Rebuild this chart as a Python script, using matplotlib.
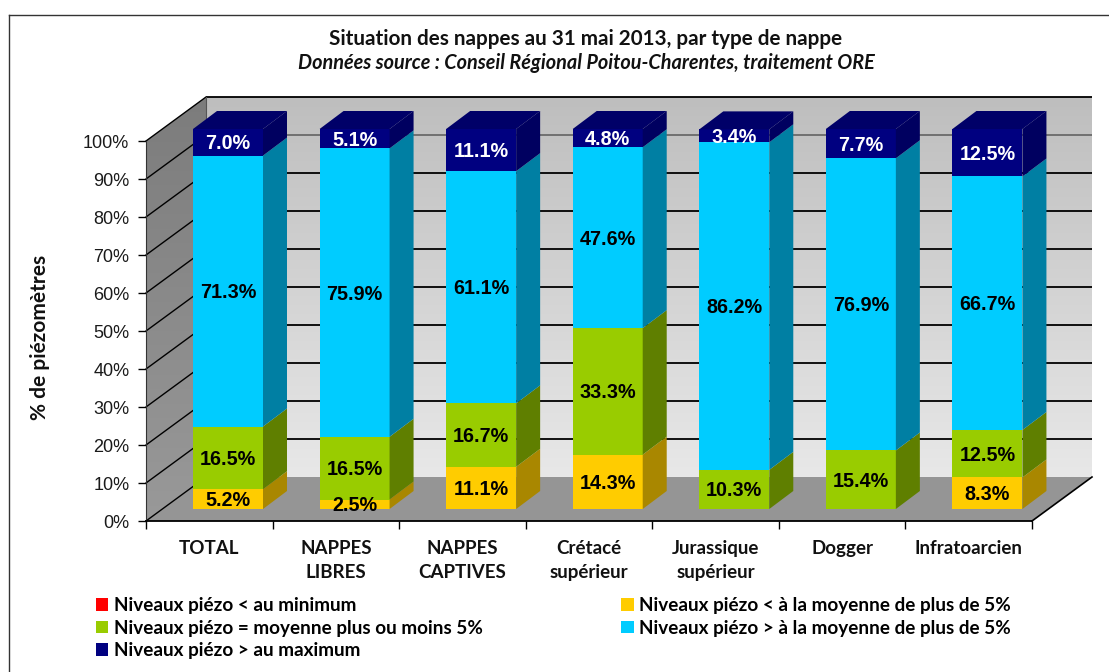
import numpy as np
import matplotlib
matplotlib.use("Agg")
import matplotlib.pyplot as plt
from matplotlib.colors import LinearSegmentedColormap
from matplotlib.lines import Line2D
from matplotlib.patches import Patch, Polygon

categories = ["TOTAL", "NAPPES\nLIBRES", "NAPPES\nCAPTIVES", "Crétacé\nsupérieur",
              "Jurassique\nsupérieur", "Dogger", "Infratoarcien"]
sous_minimum = [0, 0, 0, 0, 0, 0, 0]
sous_moyenne = [5.2, 2.5, 11.1, 14.3, 0, 0, 8.3]
moyenne = [16.5, 16.5, 16.7, 33.3, 10.3, 15.4, 12.5]
sur_moyenne = [71.3, 75.9, 61.1, 47.6, 86.2, 76.9, 66.7]
sur_maximum = [7.0, 5.1, 11.1, 4.8, 3.4, 7.7, 12.5]
y_ticks = [0, 10, 20, 30, 40, 50, 60, 70, 80, 90, 100]

series = [
    ("Niveaux piézo < au minimum", sous_minimum, "#FF0000", "#A00000", "black"),
    ("Niveaux piézo < à la moyenne de plus de 5%", sous_moyenne, "#FFCC00", "#A98700", "black"),
    ("Niveaux piézo = moyenne plus ou moins 5%", moyenne, "#99CC00", "#5F7F00", "black"),
    ("Niveaux piézo > à la moyenne de plus de 5%", sur_moyenne, "#00CCFF", "#007FA3", "black"),
    ("Niveaux piézo > au maximum", sur_maximum, "#000080", "#000060", "white"),
]

W, H = 1109, 672
LEFT, RIGHT, TOP, BOTTOM = 146, 1032, 141, 521
px_x = (RIGHT - LEFT) / len(categories)
px_y = (BOTTOM - TOP) / 100

# depth of the fake 3D box and of the bars, in data units
wall_dx, wall_dy = 60 / px_x, 44 / px_y
bar_dx, bar_dy = 24 / px_x, 18 / px_y
lift_x, lift_y = 47 / px_x, 12 / px_y
bar_w = 70 / px_x

fig = plt.figure(figsize=(W / 100, H / 100), dpi=100)
ax = fig.add_axes([LEFT / W, 1 - BOTTOM / H, (RIGHT - LEFT) / W, (BOTTOM - TOP) / H])
n = len(categories)
ax.patch.set_visible(False)

# back wall
grad = np.linspace(0, 1, 256).reshape(-1, 1)
ax.imshow(grad, extent=(wall_dx, n + wall_dx, wall_dy, 100 + wall_dy), origin="lower",
          aspect="auto", cmap=LinearSegmentedColormap.from_list("w", ["#E8E8E8", "#BEBEBE"]),
          zorder=1, clip_on=False)

# left wall
left_wall = Polygon([(0, 0), (wall_dx, wall_dy), (wall_dx, 100 + wall_dy), (0, 100)],
                    closed=True, transform=ax.transData, facecolor="none", edgecolor="none")
ax.add_patch(left_wall)
left_wall.set_clip_on(False)
im = ax.imshow(grad, extent=(0, wall_dx, 0, 100 + wall_dy), origin="lower", aspect="auto",
               cmap=LinearSegmentedColormap.from_list("l", ["#999999", "#7C7C7C"]),
               zorder=1)
im.set_clip_box(fig.bbox)
im.set_clip_path(left_wall)

# floor
ax.add_patch(Polygon([(0, 0), (n, 0), (n + wall_dx, wall_dy), (wall_dx, wall_dy)],
                     facecolor="#959595", edgecolor="none", zorder=1, clip_on=False))
ax.set_xlim(0, n)
ax.set_ylim(0, 100)

# gridlines on both walls
for t in y_ticks:
    col = "#6A6A6A" if t == 90 else "black"
    if t > 0:
        ax.plot([wall_dx, n + wall_dx], [t + wall_dy, t + wall_dy], color=col, lw=1.3,
                zorder=2, clip_on=False, solid_capstyle="butt")
    ax.plot([0, wall_dx], [t, t + wall_dy], color="black", lw=1.0, zorder=2, clip_on=False)
ax.plot([n, n + wall_dx], [0, wall_dy], color="black", lw=1.2, zorder=2, clip_on=False)
ax.plot([wall_dx, wall_dx], [wall_dy, 100 + wall_dy], color="#555555", lw=0.8, zorder=2, clip_on=False)

# stacked bars with side and top faces
x = np.arange(n) + lift_x + bar_w / 2
bottoms = np.zeros(n) + lift_y
for label, values, face, side, txt_col in series:
    vals = np.array(values, dtype=float)
    ax.bar(x, vals, width=bar_w, bottom=bottoms, color=face, zorder=3, clip_on=False)
    for i in range(n):
        if vals[i] == 0:
            continue
        x1 = x[i] + bar_w / 2
        y0 = bottoms[i]
        y1 = y0 + vals[i]
        ax.fill([x1, x1 + bar_dx, x1 + bar_dx, x1],
                [y0, y0 + bar_dy, y1 + bar_dy, y1],
                color=side, lw=0, zorder=3, clip_on=False)
        ax.text(x[i], (y0 + y1) / 2 - 0.4, f"{vals[i]:.1f}%", ha="center", va="center",
                family="Liberation Sans", fontweight="bold", fontsize=14.2, color=txt_col,
                zorder=5, clip_on=False)
    bottoms = bottoms + vals

# top cap of the bars
for i in range(n):
    x0, x1 = x[i] - bar_w / 2, x[i] + bar_w / 2
    ax.fill([x0, x1, x1 + bar_dx, x0 + bar_dx],
            [bottoms[i], bottoms[i], bottoms[i] + bar_dy, bottoms[i] + bar_dy],
            color="#000068", lw=0, zorder=3, clip_on=False)

# axes
for s in ("top", "right"):
    ax.spines[s].set_visible(False)
ax.spines["bottom"].set_linewidth(1.3)
ax.spines["left"].set_color("#333333")
ax.set_yticks(y_ticks)
ax.set_yticklabels([f"{t}%" for t in y_ticks], family="Liberation Sans", fontsize=13, color="#1A1A1A")
ax.tick_params(axis="y", length=6, width=1, pad=6)
ax.set_xticks(np.arange(n + 1))
ax.set_xticklabels([])
ax.set_xticks(np.arange(n) + 0.5, minor=True)
ax.set_xticklabels(categories, minor=True, family="Lato", fontweight="bold", fontsize=13.5,
                   linespacing=1.5, color="#111111")
ax.tick_params(axis="x", which="major", length=6, width=1)
ax.tick_params(axis="x", which="minor", length=0, pad=14)

fig.text(40 / W, 1 - 337 / H, "% de piézomètres", rotation=90, ha="center", va="center",
         family="Lato", fontweight="bold", fontsize=15, color="#111111")
fig.text(586 / W, 1 - 39 / H, "Situation des nappes au 31 mai 2013, par type de nappe",
         ha="center", va="center", family="Lato", fontweight="bold", fontsize=14.9, color="#111111")
fig.text(586 / W, 1 - 63 / H, "Données source : Conseil Régional Poitou-Charentes, traitement ORE",
         ha="center", va="center", family="Lato", fontweight="bold", fontstyle="italic", fontsize=14.3,
         color="#111111")

# outer frame, open on the right and at the bottom
fig.add_artist(Line2D([8.5 / W, 8.5 / W], [0, 1 - 14.5 / H], color="#333333", lw=1))
fig.add_artist(Line2D([8.5 / W, 1], [1 - 14.5 / H, 1 - 14.5 / H], color="#333333", lw=1))

# legend fills by column, so the order gives the same reading as the original
order = [0, 2, 4, 1, 3]
handles = [Patch(facecolor=series[i][2], label=series[i][0]) for i in order]
fig.legend(handles=handles, loc="upper left", bbox_to_anchor=(96 / W, 1 - 597 / H), ncols=2,
           frameon=False, handlelength=0.64, handleheight=0.64, handletextpad=0.3,
           columnspacing=7.35, labelspacing=0.3, borderpad=0, borderaxespad=0,
           prop={"family": "Lato", "weight": "bold", "size": 13.6})

fig.savefig("out.png", dpi=100, facecolor="white")
